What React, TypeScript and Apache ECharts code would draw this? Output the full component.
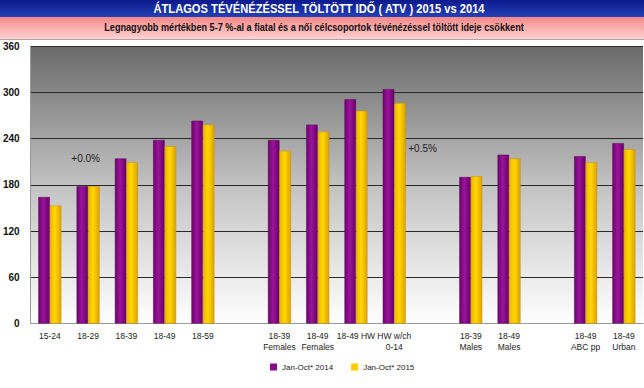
import React, { useEffect, useRef } from "react";
import * as echarts from "echarts";

const categories = [
  "15-24", "18-29", "18-39", "18-49", "18-59", "",
  "18-39\nFemales", "18-49\nFemales", "18-49 HW", "HW w/ch\n0-14", "",
  "18-39\nMales", "18-49\nMales", "",
  "18-49\nABC pp", "18-49\nUrban",
];
const values2014 = [164, 178, 214, 238, 263, null, 238, 258, 291, 304, null, 190, 219, null, 217, 234];
const values2015 = [153, 178, 209, 230, 258, null, 224, 249, 276, 286, null, 191, 214, null, 209, 226];
const yTicks = { min: 0, max: 360, interval: 60 };
const seriesNames = ["Jan-Oct* 2014", "Jan-Oct* 2015"];
const titleText = "ÁTLAGOS TÉVÉNÉZÉSSEL TÖLTÖTT IDŐ ( ATV ) 2015 vs 2014";
const subtitleText = "Legnagyobb mértékben 5-7 %-al a fiatal és a női célcsoportok tévénézéssel töltött ideje csökkent";

const sans = "'Liberation Sans', Arial, sans-serif";

const purpleFill = {
  type: "linear", x: 0, y: 0, x2: 1, y2: 0,
  colorStops: [
    { offset: 0, color: "#6e046e" },
    { offset: 0.45, color: "#9a149a" },
    { offset: 1, color: "#6a006a" },
  ],
};
const yellowFill = {
  type: "linear", x: 0, y: 0, x2: 1, y2: 0,
  colorStops: [
    { offset: 0, color: "#f0b400" },
    { offset: 0.45, color: "#ffd800" },
    { offset: 1, color: "#e0a000" },
  ],
};

export default function App() {
  const ref = useRef<HTMLDivElement>(null);
  useEffect(() => {
    if (!ref.current) return;
    const chart = echarts.init(ref.current, null, { renderer: "svg" });
    const d2014 = values2014.map((v, i) =>
      i === 1
        ? {
            value: v,
            label: {
              show: true, formatter: "+0.0%", position: [9, -28], align: "center",
              verticalAlign: "middle", fontSize: 10, color: "#222", fontFamily: sans,
            },
          }
        : v
    );
    const d2015 = values2015.map((v, i) =>
      i === 9
        ? {
            value: v,
            label: {
              show: true, formatter: "+0.5%", position: [14, 45], align: "left",
              verticalAlign: "middle", fontSize: 10, color: "#222", fontFamily: sans,
            },
          }
        : v
    );
    chart.setOption({
      animation: false,
      backgroundColor: "#ffffff",
      graphic: [
        {
          type: "rect", left: 0, top: 0, silent: true,
          shape: { width: 644, height: 17 },
          style: {
            fill: {
              type: "linear", x: 0, y: 0, x2: 0, y2: 1,
              colorStops: [
                { offset: 0, color: "#0c1a8c" },
                { offset: 1, color: "#2440b8" },
              ],
            },
          },
        },
        {
          type: "rect", left: 0, top: 17, silent: true,
          shape: { width: 644, height: 22 },
          style: {
            fill: {
              type: "linear", x: 0, y: 0, x2: 0, y2: 1,
              colorStops: [
                { offset: 0, color: "#f48888" },
                { offset: 1, color: "#ffd2d2" },
              ],
            },
          },
        },
        {
          type: "rect", left: 0, top: 39, silent: true,
          shape: { width: 644, height: 1 },
          style: { fill: "#b0a0a0" },
        },
        {
          type: "text", x: 319, y: 9, scaleX: 0.93, silent: true,
          style: {
            text: titleText, fill: "#ffffff", font: `bold 12px ${sans}`,
            align: "center", verticalAlign: "middle",
          },
        },
        {
          type: "text", x: 314, y: 27.5, scaleX: 0.83, silent: true,
          style: {
            text: subtitleText, fill: "#111111", font: `bold 11px ${sans}`,
            align: "center", verticalAlign: "middle",
          },
        },
      ],
      legend: {
        bottom: 12,
        left: 265,
        itemWidth: 7,
        itemHeight: 7,
        itemGap: 18,
        itemStyle: { borderWidth: 0 },
        icon: "rect",
        textStyle: { fontSize: 8, color: "#222", fontFamily: sans },
        data: [
          { name: seriesNames[0], itemStyle: { color: "#8a0a8a" } },
          { name: seriesNames[1], itemStyle: { color: "#ffcc00" } },
        ],
      },
      grid: {
        left: 30, right: 1, top: 46, bottom: 64.5,
        show: true,
        borderWidth: 0,
        backgroundColor: {
          type: "linear", x: 0, y: 0, x2: 0, y2: 1,
          colorStops: [
            { offset: 0, color: "#6a6a6a" },
            { offset: 0.5, color: "#c2c2c2" },
            { offset: 1, color: "#ffffff" },
          ],
        },
      },
      xAxis: {
        type: "category",
        data: categories,
        axisLine: { show: true, lineStyle: { color: "#999", width: 1 } },
        axisTick: { show: false },
        axisLabel: {
          interval: 0, fontSize: 8.5, color: "#222", fontFamily: sans,
          lineHeight: 11, margin: 7,
        },
      },
      yAxis: {
        type: "value",
        min: yTicks.min, max: yTicks.max, interval: yTicks.interval,
        axisLine: { show: true, lineStyle: { color: "#999", width: 1 } },
        axisTick: { show: false },
        axisLabel: {
          fontSize: 10, fontWeight: "bold", color: "#111", fontFamily: sans, margin: 11,
        },
        splitLine: { show: true, lineStyle: { color: "#2a2a2a", width: 1 } },
      },
      series: [
        {
          name: seriesNames[0], type: "bar", data: d2014,
          barWidth: "30%", barGap: "0%",
          itemStyle: { color: purpleFill, borderColor: "#5a005a", borderWidth: 0.5 },
        },
        {
          name: seriesNames[1], type: "bar", data: d2015,
          barWidth: "30%", barGap: "0%",
          itemStyle: { color: yellowFill, borderColor: "#c89000", borderWidth: 0.5 },
        },
      ],
    });
    return () => chart.dispose();
  }, []);
  return <div ref={ref} style={{ width: 644, height: 388, position: "absolute", left: 0, top: 0 }} />;
}
